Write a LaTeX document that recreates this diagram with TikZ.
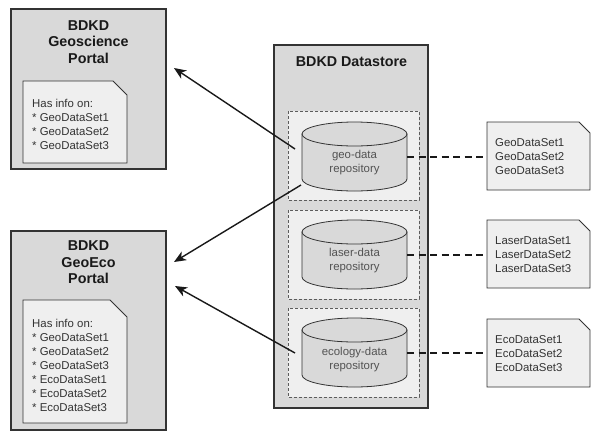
\documentclass[tikz,border=0pt]{standalone}
\usepackage{fontspec}
\setmainfont{Liberation Sans}
\usetikzlibrary{arrows.meta}
\definecolor{panel}{HTML}{D9D9D9}
\definecolor{paper}{HTML}{EFEFEF}
\definecolor{ink}{HTML}{333333}
\tikzset{
  panelbox/.style={draw=ink,line width=1.7pt,fill=panel},
  notebox/.style={draw=ink,line width=0.8pt,fill=paper},
  zone/.style={draw=ink!80,line width=0.5pt,dash pattern=on 3pt off 2pt,fill=paper},
  cylbody/.style={draw=ink,line width=0.8pt,fill=panel},
  heading/.style={font=\fontsize{14.3}{16.5}\selectfont\bfseries,text=black!90,align=center,inner sep=0pt},
  bodytext/.style={font=\fontsize{11.4}{14}\selectfont,text=ink,align=left,inner sep=0pt},
  cyltext/.style={font=\fontsize{11.4}{14}\selectfont,text=ink!85,align=center,inner sep=0pt},
  feed/.style={-{Stealth[length=12pt,width=10pt,inset=3.5pt]},line width=1.4pt,draw=black!90},
  link/.style={line width=1.6pt,draw=black!90,dash pattern=on 7pt off 4.5pt},
  anchorbox/.style={minimum width=105pt,minimum height=70pt,inner sep=0pt,outer sep=0pt},
  setbox/.style={inner sep=0pt,outer sep=0pt,minimum width=103pt,minimum height=68pt}
}
\newcommand{\notepath}[5]{% x0,y0,x1,y1,cut
  \draw[notebox] (#1,#2) -- ({#3-#5},#2) -- (#3,{#2+#5}) -- (#3,#4) -- (#1,#4) -- cycle;}
\newcommand{\repocyl}[2]{% top y, name
  \draw[cylbody] (302,{#1+12}) -- (302,{#1+57}) arc[start angle=180,end angle=0,x radius=52.5,y radius=12]
     -- (407,{#1+12}) -- cycle;
  \draw[cylbody] (354.5,{#1+12}) ellipse[x radius=52.5,y radius=12];
  \node[anchorbox] (#2) at (354.5,{#1+35}) {};}
\begin{document}
\begin{tikzpicture}[x=1pt,y=-1pt]
\useasboundingbox (0,0) rectangle (606,440);
% portals
\draw[panelbox] (11,9) rectangle (166,169);
\node[heading] (ptitleA) at (88.5,42) {BDKD\\Geoscience\\Portal};
\notepath{23}{81}{127}{163}{14}
\node[bodytext,anchor=west] (pnoteA) at (32,124.5) {Has info on:\\* GeoDataSet1\\* GeoDataSet2\\* GeoDataSet3};
\draw[panelbox] (11,231) rectangle (166,430);
\node[heading] (ptitleB) at (88.5,262.5) {BDKD\\GeoEco\\Portal};
\notepath{23}{300}{127}{423}{17}
\node[bodytext,anchor=west] (pnoteB) at (32,365) {Has info on:\\* GeoDataSet1\\* GeoDataSet2\\* GeoDataSet3\\* EcoDataSet1\\* EcoDataSet2\\* EcoDataSet3};
% datastore
\draw[panelbox] (274,45) rectangle (428,408);
\node[heading] (dtitle) at (351.5,62) {BDKD Datastore};
\draw[zone] (288,111) rectangle (419,200);
\draw[zone] (288,210) rectangle (419,299);
\draw[zone] (288,308) rectangle (419,397);
\repocyl{122}{repoA}
\repocyl{220}{repoB}
\repocyl{318}{repoC}
\node[cyltext] (repoAt) at (354.5,163) {geo-data\\repository};
\node[cyltext] (repoBt) at (354.5,261) {laser-data\\repository};
\node[cyltext] (repoCt) at (354.5,360) {ecology-data\\repository};
% right notes
\notepath{487}{122}{590}{190}{11}
\notepath{487}{220}{590}{288}{11}
\notepath{487}{319}{590}{387}{11}
\node[setbox] (setA) at (538.5,157) {};
\node[setbox] (setB) at (538.5,255) {};
\node[setbox] (setC) at (538.5,353) {};
\node[bodytext,anchor=west] (setAt) at (495,157) {GeoDataSet1\\GeoDataSet2\\GeoDataSet3};
\node[bodytext,anchor=west] (setBt) at (495,255) {LaserDataSet1\\LaserDataSet2\\LaserDataSet3};
\node[bodytext,anchor=west] (setCt) at (495,354) {EcoDataSet1\\EcoDataSet2\\EcoDataSet3};
% connectors
\draw[link] (repoA.east) -- (setA.west);
\draw[link] (repoB.east) -- (setB.west);
\draw[link] (repoC.east) -- (setC.west);
\coordinate (fromA) at (295,149);
\coordinate (toA) at (174,68);
\coordinate (fromAB) at (301,185);
\coordinate (toAB) at (174,262);
\coordinate (fromC) at (295,353);
\coordinate (toC) at (175,286);
\draw[feed] (fromA) -- (toA);
\draw[feed] (fromAB) -- (toAB);
\draw[feed] (fromC) -- (toC);
\end{tikzpicture}
\end{document}
